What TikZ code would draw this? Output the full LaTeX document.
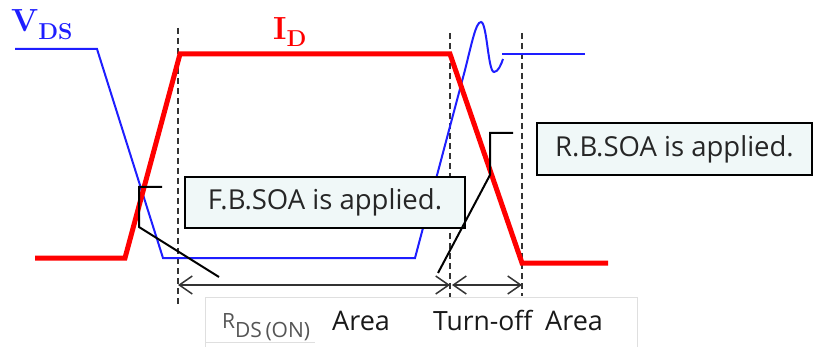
\documentclass[tikz,border=0pt]{standalone}
\usepackage{fontspec}
\newfontfamily\boxfont{Open Sans}
\usetikzlibrary{arrows.meta}
\definecolor{vdsblue}{RGB}{30,30,255}
\definecolor{idred}{RGB}{255,0,0}
\definecolor{boxfill}{RGB}{240,248,248}
\definecolor{areagray}{RGB}{85,85,85}

\begin{document}
\begin{tikzpicture}[x=1pt,y=-1pt,>={Straight Barb[length=13pt,width=18pt]},
  wave/.style={line width=2pt,vdsblue},
  current/.style={line width=5pt,idred},
  marker/.style={line width=1.8pt,dash pattern=on 6pt off 4pt,black!80},
  callout/.style={draw=black,line width=2pt,fill=boxfill,minimum width=280pt,minimum height=51pt,inner sep=0pt,font=\boxfont\fontsize{27.5}{30}\selectfont,text=black!85},
  pointer/.style={line width=2pt,black},
  arealabel/.style={font=\boxfont\fontsize{27}{30}\selectfont,anchor=base west,inner sep=0pt,text=black!90},
  signame/.style={font=\bfseries\fontsize{32}{36}\selectfont,inner sep=0pt,anchor=base west}]
\useasboundingbox (0,0) rectangle (813,347);

% time markers
\coordinate (onstart) at (178,285);
\coordinate (offstart) at (450,285);
\coordinate (offend) at (522,285);
\draw[marker] (178,28) -- (178,305);
\draw[marker] (450,33) -- (450,297);
\draw[marker] (522,33) -- (522,296);

% drain-source voltage
\draw[wave] (15,49) -- (97,49) -- (163,258) -- (415,258) -- (465,70)
  .. controls (472,42) and (476,22) .. (481,22)
  .. controls (487,22) and (488,72) .. (494,72)
  .. controls (498,72) and (501,65) .. (503,59);
\draw[wave] (502,54) -- (585,54);

% drain current
\draw[current,line join=miter] (35,258) -- (125,258) -- (180,54) -- (450,54) -- (522,263) -- (608,263);

\node[signame,text=vdsblue] (vds) at (11,32) {V\raisebox{-8pt}{\fontsize{23}{26}\selectfont DS}};
\node[signame,text=idred] (id) at (273,40) {I\raisebox{-7pt}{\fontsize{23}{26}\selectfont D}};

% SOA callouts
\node[callout] (fbsoa) at (325,202.5) {F.B.SOA is applied.};
\node[callout,minimum width=275pt,minimum height=52pt] (rbsoa) at (674.5,149) {R.B.SOA is applied.};
\draw[pointer] (162,187) -- (139,187) -- (139,227) -- (219,277);
\draw[pointer] (513,133) -- (490,133) -- (490,175) -- (438,273);

% areas
\draw[<->,line width=1.5pt,black!80] (onstart) -- (offstart);
\draw[<->,line width=1.5pt,black!80] ([xshift=2pt]offstart) -- (offend);
\draw[gray!25,line width=0.8pt] (205,347) -- (205,297) -- (637,297) -- (637,347);
\draw[gray!25,line width=0.8pt] (205,342) -- (315,342);
\node[arealabel,text=areagray,font=\boxfont\fontsize{21}{24}\selectfont] (rds) at (222,328) {R\raisebox{-9pt}{DS\,(ON)}};
\node[arealabel] (area1) at (332,330) {Area};
\node[arealabel,font=\boxfont\fontsize{26.5}{30}\selectfont] (turnoff) at (433,330) {Turn-off};
\node[arealabel] (area2) at (545,330) {Area};
\end{tikzpicture}
\end{document}
